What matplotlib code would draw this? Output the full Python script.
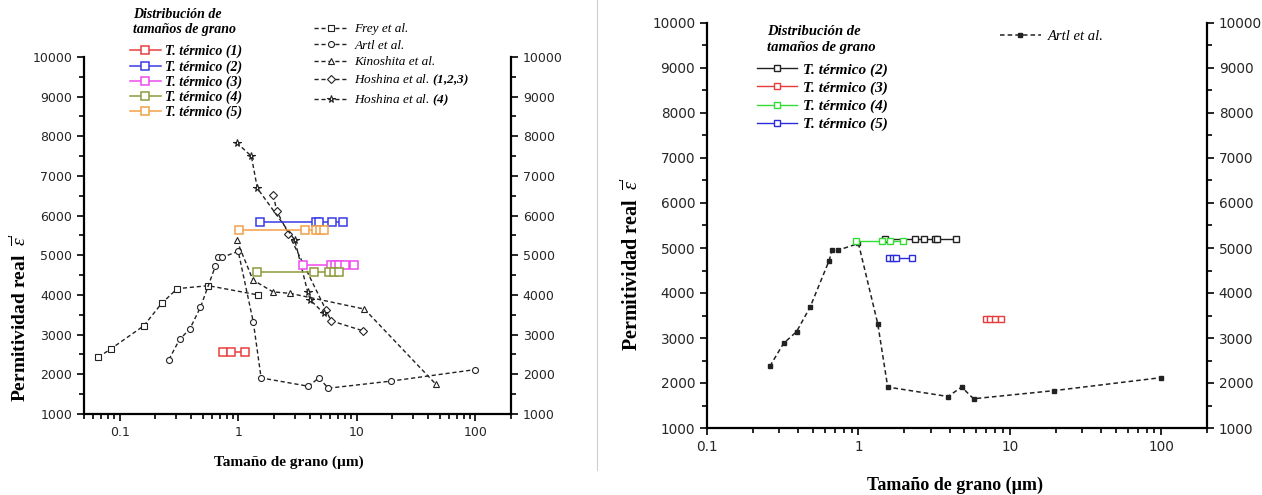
import numpy as np
import matplotlib.pyplot as plt
from matplotlib.lines import Line2D
from matplotlib.ticker import LogLocator, MultipleLocator, FuncFormatter

plt.rcParams['font.family'] = ['Liberation Serif', 'DejaVu Serif']
plt.rcParams['mathtext.fontset'] = 'custom'
plt.rcParams['mathtext.rm'] = 'Liberation Serif'
plt.rcParams['mathtext.it'] = 'Liberation Serif:italic'
plt.rcParams['mathtext.bf'] = 'Liberation Serif:bold'
plt.rcParams['mathtext.bfit'] = 'Liberation Serif:bold:italic'

# literature data (grain size um, permittivity)
frey_x = [0.066, 0.085, 0.16, 0.226, 0.306, 0.56, 1.48]
frey_y = [2430, 2650, 3225, 3790, 4160, 4235, 4000]
artl_x = [0.26, 0.32, 0.39, 0.48, 0.64, 0.67, 0.73, 1.0, 1.34, 1.56, 3.9, 4.8, 5.75, 19.5, 100]
artl_y = [2370, 2880, 3140, 3690, 4720, 4950, 4950, 5100, 3320, 1910, 1700, 1910, 1650, 1830, 2120]
kino_x = [0.97, 1.33, 1.96, 2.76, 11.6, 46.5]
kino_y = [5385, 4380, 4080, 4040, 3645, 1750]
hosh_x = [1.98, 2.11, 2.65, 5.5, 6.07, 11.2]
hosh_y = [6520, 6120, 5550, 3620, 3350, 3100]
hosh4_x = [0.97, 1.29, 1.45, 3.0, 3.86, 4.06, 5.27]
hosh4_y = [7840, 7500, 6690, 5385, 4067, 3873, 3538]

# grain size distributions, left panel
t1_x = [0.74, 0.87, 1.13]
t1_y = [2570, 2570, 2570]
t2_x = [1.52, 4.53, 4.84, 6.15, 7.7]
t2_y = [5830, 5830, 5830, 5830, 5830]
t3_x = [3.5, 6.07, 6.55, 7.14, 8.0, 9.41]
t3_y = [4755, 4755, 4755, 4755, 4755, 4755]
t4_x = [1.43, 4.39, 5.88, 6.47, 7.14]
t4_y = [4590, 4590, 4590, 4590, 4590]
t5_x = [1.025, 3.69, 4.53, 4.91, 5.3]
t5_y = [5640, 5640, 5640, 5640, 5640]

# grain size distributions, right panel
r2_x = [1.5, 2.36, 2.69, 3.2, 3.32, 4.4]
r2_y = [5200, 5200, 5200, 5200, 5200, 5200]
r3_x = [6.94, 7.37, 7.95, 8.7]
r3_y = [3415, 3415, 3415, 3415]
r4_x = [0.965, 1.44, 1.62, 1.96]
r4_y = [5160, 5160, 5160, 5160]
r5_x = [1.58, 1.68, 1.77, 2.25]
r5_y = [4780, 4780, 4780, 4780]

W, H = 1262, 495
fig = plt.figure(figsize=(W / 100, H / 100), dpi=100)

def px_axes(x0, x1, ytop, ybot):
    return fig.add_axes([x0 / W, 1 - ybot / H, (x1 - x0) / W, (ybot - ytop) / H])

axL = px_axes(84, 511, 57, 414)
axR = px_axes(707, 1207, 23, 428)

tick_font = ['DejaVu Sans']
ylab = r"Permitividad real  $\overline{\varepsilon}'$"

def style_axes(ax, xlim, tsize, xsize, ysize):
    ax.set_xscale('log')
    ax.set_xlim(*xlim)
    ax.set_ylim(1000, 10000)
    ax.yaxis.set_major_locator(MultipleLocator(1000))
    ax.yaxis.set_minor_locator(MultipleLocator(500))
    ax.xaxis.set_major_locator(LogLocator(base=10))
    ax.xaxis.set_minor_locator(LogLocator(base=10, subs=np.arange(2, 10)))
    ax.xaxis.set_major_formatter(FuncFormatter(lambda v, p: f'{v:g}'))
    ax.spines['top'].set_visible(False)
    for s in ['left', 'right', 'bottom']:
        ax.spines[s].set_linewidth(1.6)
    ax.tick_params(which='both', direction='out', right=True, top=False,
                   labelright=True, width=1.4, colors='#262626')
    ax.tick_params(which='major', length=5, labelsize=tsize)
    ax.tick_params(which='minor', length=3.5)
    for lab in ax.get_xticklabels() + ax.get_yticklabels():
        lab.set_family(tick_font)
    ax.set_xlabel('Tamaño de grano (µm)', fontsize=xsize, fontweight='bold')
    ax.set_ylabel(ylab, fontsize=ysize, fontweight='bold')

style_axes(axL, (0.05, 200), 9, 11, 14)
style_axes(axR, (0.1, 200), 9.8, 13, 14.5)
axL.xaxis.set_label_coords(0.48, -0.115)
axL.yaxis.set_label_coords(-0.126, 0.27)
axR.xaxis.set_label_coords(0.496, -0.12)
axR.yaxis.set_label_coords(-0.128, 0.405)

# left panel literature series
ref_ls = (0, (3, 2))
lit = [
    (frey_x, frey_y, 's', 'Frey et al.'),
    (artl_x, artl_y, 'o', 'Artl et al.'),
    (kino_x, kino_y, '^', 'Kinoshita et al.'),
    (hosh_x, hosh_y, 'D', r'Hoshina et al. $\mathbfit{(1{,}2{,}3)}$'),
    (hosh4_x, hosh4_y, '*', r'Hoshina et al. $\mathbfit{(4)}$'),
]
lit_handles = []
for xs, ys, m, lab in lit:
    ms = 5.5 if m == '*' else 4.3
    ln, = axL.plot(xs, ys, ls=ref_ls, lw=1, color='#222222', marker=m, ms=ms,
                   mfc='white', mec='#222222', mew=0.8, label=lab)
    lit_handles.append(ln)

# left panel distributions
dist = [
    (t1_x, t1_y, '#e8403f', 'T. térmico (1)'),
    (t2_x, t2_y, '#3b3be6', 'T. térmico (2)'),
    (t3_x, t3_y, '#ee4bee', 'T. térmico (3)'),
    (t4_x, t4_y, '#8f9a3a', 'T. térmico (4)'),
    (t5_x, t5_y, '#f3a04a', 'T. térmico (5)'),
]
dist_handles = []
for xs, ys, c, lab in dist:
    ln, = axL.plot(xs, ys, color=c, lw=1.1, marker='s', ms=5.5, mfc='white',
                   mec=c, mew=1.1, label=lab)
    dist_handles.append(ln)

# right panel
ln_artl, = axR.plot(artl_x, artl_y, ls=ref_ls, lw=1.1, color='#222222', marker='s',
                    ms=2.2, mfc='#222222', mec='#222222', label='Artl et al.')
rdist = [
    (r2_x, r2_y, '#222222', 'T. térmico (2)'),
    (r3_x, r3_y, '#e83a3a', 'T. térmico (3)'),
    (r4_x, r4_y, '#33dd33', 'T. térmico (4)'),
    (r5_x, r5_y, '#2b2bdd', 'T. térmico (5)'),
]
rdist_handles = []
for xs, ys, c, lab in rdist:
    ln, = axR.plot(xs, ys, color=c, lw=1.0, marker='s', ms=4, mfc='white',
                   mec=c, mew=1.0, label=lab)
    rdist_handles.append(ln)

title_kw = dict(fontweight='bold', style='italic', va='top', ha='left', linespacing=1.25)
fig.text(133 / W, 1 - 8 / H, 'Distribución de\ntamaños de grano', fontsize=10, **title_kw)
fig.text(767 / W, 1 - 25 / H, 'Distribución de\ntamaños de grano', fontsize=10.5, **title_kw)

leg_kw = dict(loc='upper left', frameon=False, borderpad=0, borderaxespad=0,
              bbox_transform=fig.transFigure, numpoints=1)
lg1 = axL.legend(handles=dist_handles, bbox_to_anchor=(130 / W, 1 - 45 / H),
                 prop={'weight': 'bold', 'style': 'italic', 'size': 10},
                 handlelength=2.2, handletextpad=0.35, labelspacing=0.12, **leg_kw)
axL.add_artist(lg1)
axL.legend(handles=lit_handles, bbox_to_anchor=(314 / W, 1 - 23 / H),
           prop={'style': 'italic', 'size': 9.5},
           handlelength=2.6, handletextpad=0.45, labelspacing=0.33, **leg_kw)

lg3 = axR.legend(handles=rdist_handles, bbox_to_anchor=(757 / W, 1 - 63 / H),
                 prop={'weight': 'bold', 'style': 'italic', 'size': 11},
                 handlelength=2.6, handletextpad=0.4, labelspacing=0.28, **leg_kw)
axR.add_artist(lg3)
axR.legend(handles=[ln_artl], bbox_to_anchor=(1000 / W, 1 - 30 / H),
           prop={'style': 'italic', 'size': 10.5},
           handlelength=2.8, handletextpad=0.5, **leg_kw)

# thin separator between the two panels
fig.add_artist(Line2D([597 / W, 597 / W], [1, 1 - 470 / H], color='#cfcfcf', lw=0.8))

fig.savefig('out.png', dpi=100, facecolor='white')
